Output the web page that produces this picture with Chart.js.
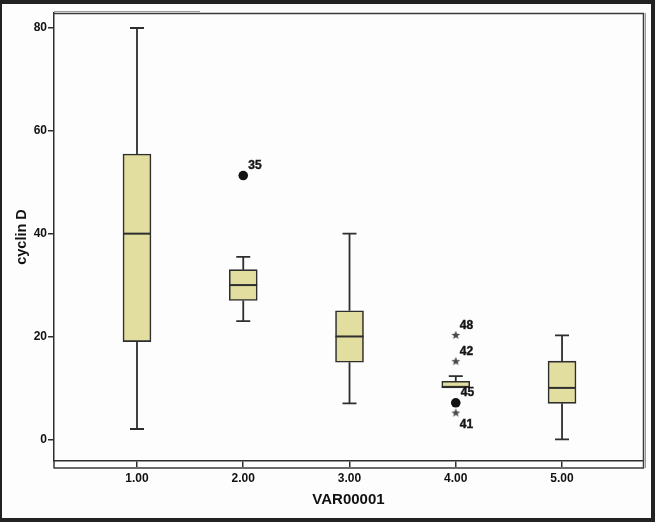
<!DOCTYPE html>
<html>
<head>
<meta charset="utf-8">
<script src="https://cdn.jsdelivr.net/npm/chart.js@4"></script>
<style>
html,body{margin:0;padding:0;background:#fff;}
canvas{display:block;}
</style>
</head>
<body>
<canvas id="c" width="655" height="522"></canvas>
<script>
// ---- data ----
const categories = [1, 2, 3, 4, 5];
const whiskerLow = [2, 23, 7, 10, 0];
const q1 = [19, 27, 15, 10, 7];
const median = [40, 30, 20, 10.2, 10];
const q3 = [55.5, 33, 25, 11.3, 15.2];
const whiskerHigh = [80, 35.5, 40, 12.3, 20.2];

const circleX = [2, 4];
const circleY = [51.3, 7.1];
const circleLabels = ['35', '45'];

const starX = [4, 4, 4];
const starY = [20.3, 15.2, 5.2];
const starLabels = ['48', '42', '41'];
const starLabelSide = ['up', 'up', 'down'];

const yTicks = [0, 20, 40, 60, 80];
const xTitle = 'VAR00001';
const yTitle = 'cyclin D';

// ---- star point image ----
const starImg = document.createElement('canvas');
starImg.width = 10; starImg.height = 10;
(function(){
  const g = starImg.getContext('2d');
  g.fillStyle = '#4a4a4a';
  g.beginPath();
  for (let i = 0; i < 10; i++) {
    const r = i % 2 === 0 ? 4.6 : 2.0;
    const a = -Math.PI / 2 + i * Math.PI / 5;
    const px = 5 + r * Math.cos(a), py = 5.3 + r * Math.sin(a);
    if (i === 0) g.moveTo(px, py); else g.lineTo(px, py);
  }
  g.closePath();
  g.fill();
})();

const INK = '#2e2e2e';
const BOX_FILL = '#e2dea0';
const FONT = '"Liberation Sans", Arial, sans-serif';

const framePlugin = {
  id: 'frame',
  beforeDraw(chart) {
    const ctx = chart.ctx;
    ctx.save();
    ctx.fillStyle = '#fdfdfd';
    ctx.fillRect(0, 0, chart.width, chart.height);
    ctx.restore();
  },
  afterDatasetsDraw(chart) {
    const ctx = chart.ctx;
    const xs = chart.scales.x, ys = chart.scales.y;
    ctx.save();
    ctx.strokeStyle = INK;
    ctx.lineCap = 'butt';
    const half = 14, cap = 7;
    for (let i = 0; i < categories.length; i++) {
      const x = xs.getPixelForValue(categories[i]);
      const pLo = ys.getPixelForValue(whiskerLow[i]);
      const pQ1 = ys.getPixelForValue(q1[i]);
      const pQ3 = ys.getPixelForValue(q3[i]);
      const pHi = ys.getPixelForValue(whiskerHigh[i]);
      const pMed = ys.getPixelForValue(median[i]);
      ctx.lineWidth = 1.8;
      ctx.beginPath();
      ctx.moveTo(x, pQ3); ctx.lineTo(x, pHi);
      ctx.moveTo(x - cap, pHi); ctx.lineTo(x + cap, pHi);
      if (whiskerLow[i] < q1[i]) {
        ctx.moveTo(x, pQ1); ctx.lineTo(x, pLo);
        ctx.moveTo(x - cap, pLo); ctx.lineTo(x + cap, pLo);
      }
      ctx.stroke();
      ctx.lineWidth = 2;
      ctx.beginPath();
      ctx.moveTo(x - half, pMed); ctx.lineTo(x + half, pMed);
      ctx.stroke();
    }
    // outlier labels
    ctx.fillStyle = '#151515';
    ctx.strokeStyle = '#151515';
    ctx.lineWidth = 0.4;
    ctx.font = 'bold 12px ' + FONT;
    ctx.textAlign = 'left';
    ctx.textBaseline = 'middle';
    for (let i = 0; i < circleX.length; i++) {
      const x = xs.getPixelForValue(circleX[i]);
      const y = ys.getPixelForValue(circleY[i]);
      ctx.fillText(circleLabels[i], x + 5, y - 10);
      ctx.strokeText(circleLabels[i], x + 5, y - 10);
    }
    for (let i = 0; i < starX.length; i++) {
      const x = xs.getPixelForValue(starX[i]);
      const y = ys.getPixelForValue(starY[i]);
      const dy = starLabelSide[i] === 'down' ? 12 : -9;
      ctx.fillText(starLabels[i], x + 4, y + dy);
      ctx.strokeText(starLabels[i], x + 4, y + dy);
    }
    ctx.restore();
  },
  afterDraw(chart) {
    const ctx = chart.ctx;
    const a = chart.chartArea;
    ctx.save();
    // plot frame
    ctx.strokeStyle = '#9a9a9a';
    ctx.lineWidth = 1;
    ctx.beginPath();
    ctx.moveTo(a.left, a.top - 1.5); ctx.lineTo(200, a.top - 1.5);
    ctx.moveTo(a.right + 2.5, a.top); ctx.lineTo(a.right + 2.5, a.bottom + 7);
    ctx.stroke();
    ctx.strokeStyle = '#3a3a3a';
    ctx.lineWidth = 1.5;
    ctx.beginPath();
    ctx.moveTo(a.left, a.top + 0.5); ctx.lineTo(a.right + 1, a.top + 0.5);
    ctx.moveTo(a.right + 0.5, a.top); ctx.lineTo(a.right + 0.5, a.bottom + 7.5);
    ctx.moveTo(a.left, a.bottom + 7); ctx.lineTo(a.right + 1, a.bottom + 7);
    ctx.moveTo(a.left, a.bottom); ctx.lineTo(a.left, a.bottom + 7.5);
    ctx.stroke();
    // outer dark frame
    ctx.fillStyle = '#222';
    ctx.fillRect(0, 0, chart.width, 4);
    ctx.fillRect(0, chart.height - 4, chart.width, 4);
    ctx.fillRect(0, 0, 2, chart.height);
    ctx.fillRect(chart.width - 4, 0, 4, chart.height);
    ctx.restore();
  }
};

new Chart(document.getElementById('c'), {
  type: 'bar',
  data: {
    datasets: [
      {
        type: 'bar',
        data: categories.map((c, i) => ({ x: c, y: [q1[i], q3[i]] })),
        backgroundColor: BOX_FILL,
        borderColor: INK,
        borderWidth: 1.6,
        borderSkipped: false,
        barThickness: 28,
        order: 2
      },
      {
        type: 'scatter',
        data: circleX.map((x, i) => ({ x: x, y: circleY[i] })),
        pointStyle: 'circle',
        pointRadius: 4.8,
        backgroundColor: '#111',
        borderColor: '#111',
        borderWidth: 0,
        order: 1
      },
      {
        type: 'scatter',
        data: starX.map((x, i) => ({ x: x, y: starY[i] })),
        pointStyle: starImg,
        pointRadius: 5,
        order: 1
      }
    ]
  },
  options: {
    responsive: false,
    animation: false,
    events: [],
    layout: { padding: { top: 13, right: 12, left: 0, bottom: 0 } },
    plugins: { legend: { display: false }, tooltip: { enabled: false } },
    scales: {
      x: {
        type: 'linear',
        offset: false,
        min: 0.219,
        max: 5.762,
        afterBuildTicks(scale) { scale.ticks = categories.map(v => ({ value: v })); },
        afterFit(scale) { scale.height = 61; },
        grid: { display: true, offset: false, drawOnChartArea: false, drawTicks: true, tickLength: 6, color: INK, lineWidth: 1.5 },
        border: { display: true, color: INK, width: 1.5 },
        ticks: {
          color: '#111',
          padding: 4,
          maxRotation: 0,
          autoSkip: false,
          font: { family: FONT, size: 12, weight: 'bold' },
          callback: v => Number(v).toFixed(2)
        },
        title: {
          display: true,
          text: xTitle,
          color: '#111',
          padding: { top: 0, bottom: 13 },
          font: { family: FONT, size: 15, weight: 'bold' }
        }
      },
      y: {
        type: 'linear',
        min: -4.22,
        max: 82.92,
        afterBuildTicks(scale) { scale.ticks = yTicks.map(v => ({ value: v })); },
        afterFit(scale) { scale.width = 54; },
        grid: { display: true, drawOnChartArea: false, drawTicks: true, tickLength: 6, color: INK, lineWidth: 1.5 },
        border: { display: true, color: INK, width: 1.5 },
        ticks: {
          color: '#111',
          padding: 1,
          autoSkip: false,
          font: { family: FONT, size: 12, weight: 'bold' },
          callback: v => String(v)
        },
        title: {
          display: true,
          text: yTitle,
          color: '#111',
          padding: { top: 13, bottom: 0 },
          font: { family: FONT, size: 14.5, weight: 'bold' }
        }
      }
    }
  },
  plugins: [framePlugin]
});
</script>
</body>
</html>
